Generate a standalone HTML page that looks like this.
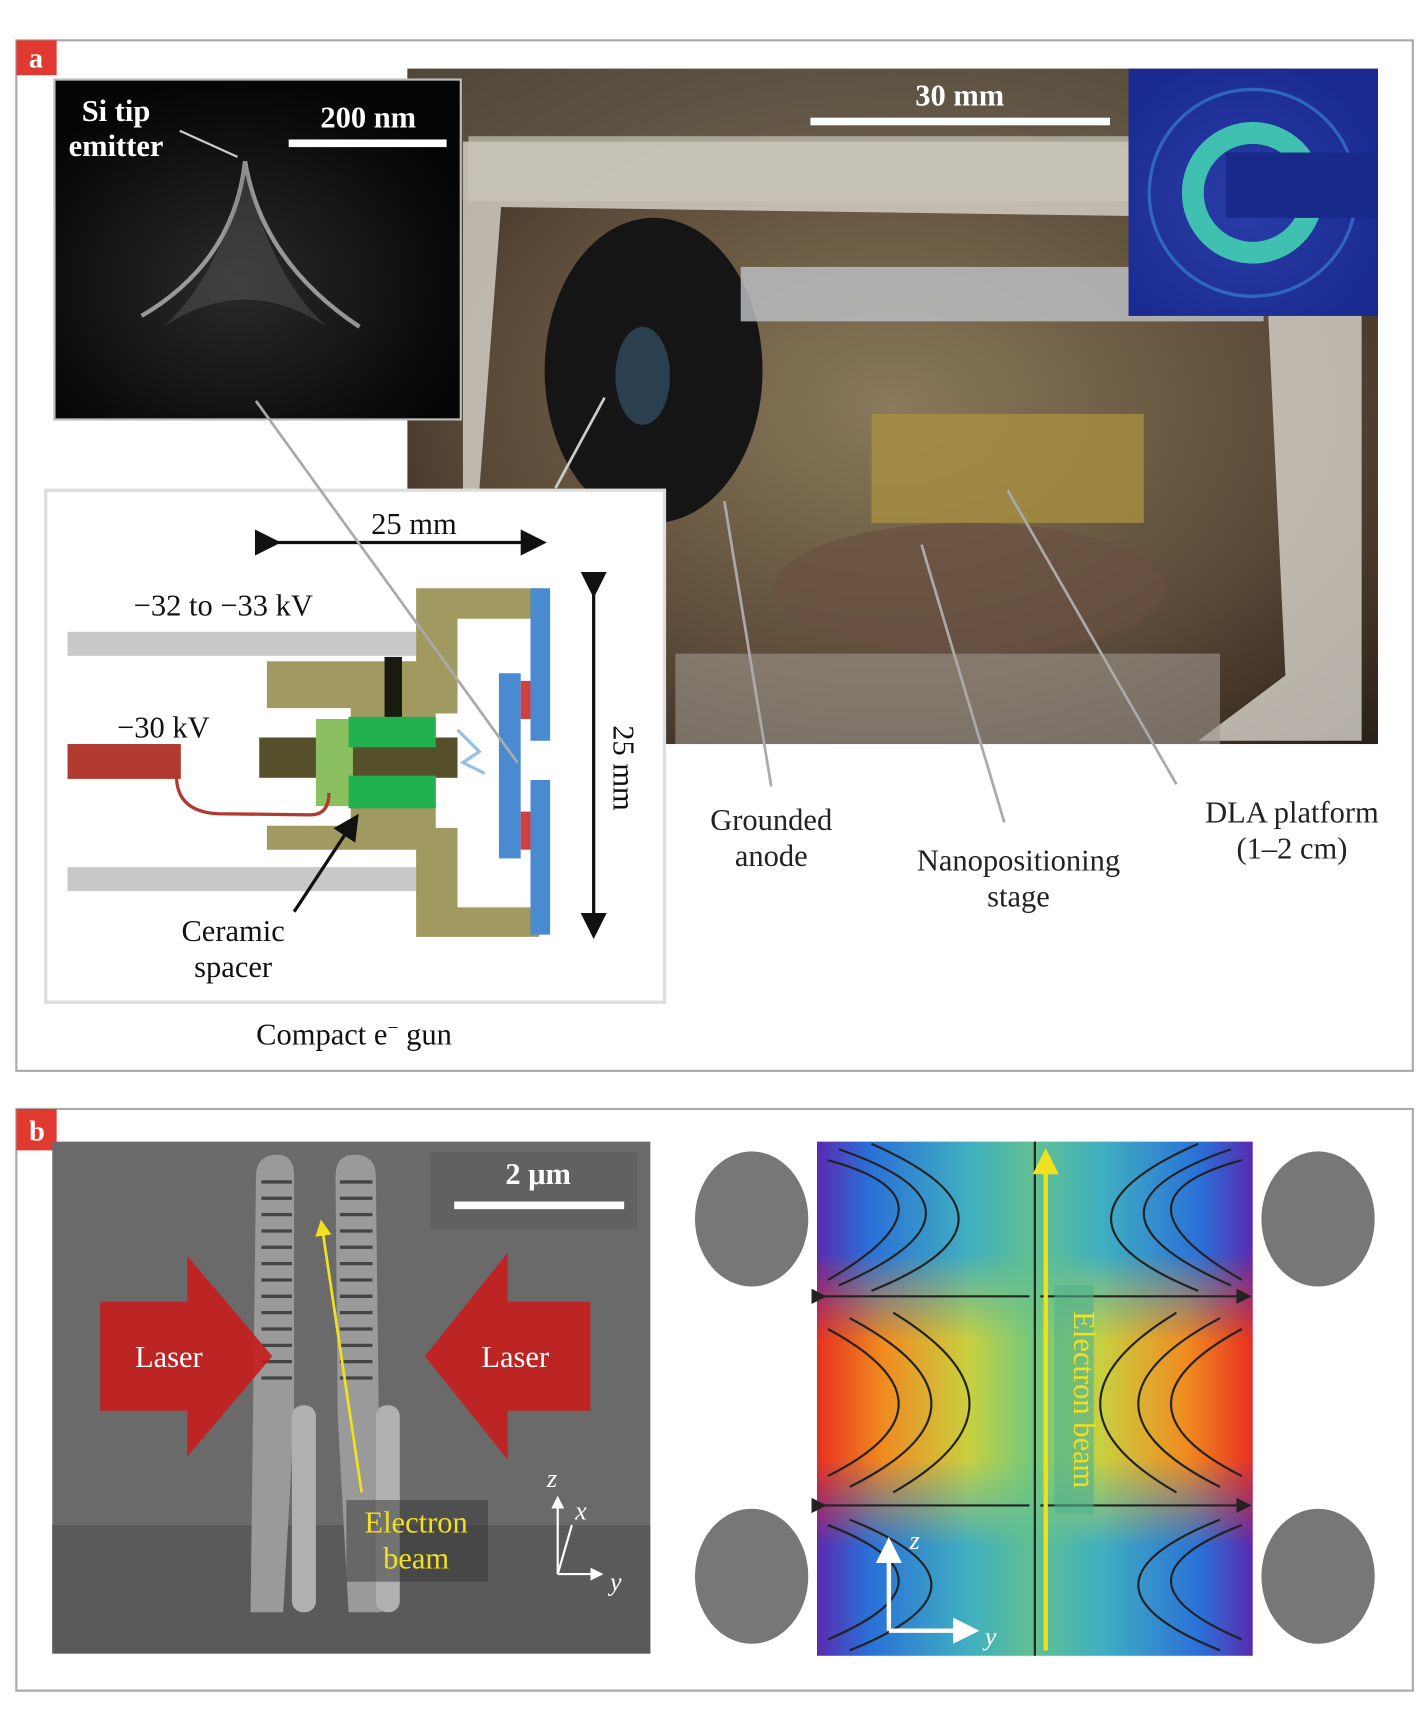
<!DOCTYPE html>
<html><head><meta charset="utf-8"><style>
html,body{margin:0;padding:0;background:#fff;}
svg{display:block;}
text{font-family:"Liberation Serif",serif;}
</style></head><body>
<svg width="1427" height="1719" viewBox="0 0 1310 1578" xmlns="http://www.w3.org/2000/svg">
<defs>
<radialGradient id="ph" cx="0.5" cy="0.5" r="0.7">
<stop offset="0" stop-color="#8a7a5a"/><stop offset="0.6" stop-color="#5a4a38"/><stop offset="1" stop-color="#2a2018"/></radialGradient>
<radialGradient id="diff" cx="0.45" cy="0.55" r="0.6"><stop offset="0" stop-color="#2a3ea8"/><stop offset="1" stop-color="#1a2a90"/></radialGradient>
<radialGradient id="sem" cx="0.45" cy="0.6" r="0.6"><stop offset="0" stop-color="#2a2a2a"/><stop offset="1" stop-color="#050505"/></radialGradient>
<linearGradient id="fldx" x1="0" x2="1"><stop offset="0" stop-color="#5a2ab0"/><stop offset="0.12" stop-color="#2a70d8"/><stop offset="0.35" stop-color="#40b0c0"/><stop offset="0.5" stop-color="#60c090"/><stop offset="0.65" stop-color="#40b0c0"/><stop offset="0.88" stop-color="#2a70d8"/><stop offset="1" stop-color="#5a2ab0"/></linearGradient>
<linearGradient id="fldr" x1="0" x2="1"><stop offset="0" stop-color="#e83020"/><stop offset="0.15" stop-color="#f08a20"/><stop offset="0.35" stop-color="#c8d040"/><stop offset="0.5" stop-color="#70c880"/><stop offset="0.65" stop-color="#c8d040"/><stop offset="0.85" stop-color="#f08a20"/><stop offset="1" stop-color="#e83020"/></linearGradient>
<linearGradient id="vm" x1="0" y1="0" x2="0" y2="1">
<stop offset="0" stop-color="#fff" stop-opacity="0"/><stop offset="0.3" stop-color="#fff" stop-opacity="1"/><stop offset="0.7" stop-color="#fff" stop-opacity="1"/><stop offset="1" stop-color="#fff" stop-opacity="0"/></linearGradient>
<mask id="rm"><rect x="750" y="1150" width="400" height="270" fill="url(#vm)"/></mask>
<marker id="ah" markerWidth="8" markerHeight="8" refX="6" refY="4" orient="auto"><path d="M0,0L8,4L0,8z" fill="#111"/></marker>
<marker id="ahy" markerWidth="6" markerHeight="6" refX="5" refY="3" orient="auto"><path d="M0,0L6,3L0,6z" fill="#f0e020"/></marker>
<marker id="ahw" markerWidth="6" markerHeight="6" refX="5" refY="3" orient="auto"><path d="M0,0L6,3L0,6z" fill="#fff"/></marker>
<marker id="ahk" markerWidth="7" markerHeight="7" refX="5" refY="3.5" orient="auto"><path d="M0,0L7,3.5L0,7z" fill="#222"/></marker>
</defs>

<!-- Panel a -->
<rect x="15" y="37" width="1282" height="946" fill="#fff" stroke="#aaa" stroke-width="2"/>
<rect x="15" y="37" width="37" height="32" fill="#e03a30"/>
<text x="33" y="62" font-size="26" font-weight="bold" fill="#fff" text-anchor="middle">a</text>

<rect x="374" y="63" width="891" height="620" fill="url(#ph)"/>
<rect x="374" y="63" width="891" height="120" fill="#6a6050" opacity="0.6"/>
<path d="M425,130 L1250,130 L1250,680 L1100,680 L1180,620 L1160,200 L460,190 L440,450 L425,450z" fill="#d8d4cc" opacity="0.8"/>
<rect x="430" y="125" width="820" height="60" fill="#c8c4b8" opacity="0.7"/>
<ellipse cx="600" cy="340" rx="100" ry="140" fill="#151515"/>
<ellipse cx="590" cy="345" rx="25" ry="45" fill="#2a4050"/>
<rect x="680" y="245" width="480" height="50" fill="#b8bcc0" opacity="0.85"/>
<rect x="800" y="380" width="250" height="100" fill="#a89040" opacity="0.8"/>
<ellipse cx="890" cy="540" rx="180" ry="60" fill="#6a5040" opacity="0.7"/>
<rect x="620" y="600" width="500" height="83" fill="#a09890" opacity="0.6"/>
<text x="881" y="97" font-size="28" font-weight="bold" fill="#fff" text-anchor="middle">30 mm</text>
<rect x="744" y="108" width="275" height="7" fill="#fff"/>
<rect x="1036" y="63" width="229" height="227" fill="url(#diff)"/>
<circle cx="1150" cy="177" r="95" fill="none" stroke="#3a8ae0" stroke-width="3" opacity="0.6"/>
<circle cx="1150" cy="177" r="55" fill="none" stroke="#40c0b0" stroke-width="20"/>
<rect x="1125" y="140" width="140" height="60" fill="#1a2a8a"/>

<rect x="50" y="73" width="373" height="312" fill="url(#sem)" stroke="#bbb" stroke-width="2"/>
<path d="M225,148 Q215,240 130,290 M225,148 Q240,240 330,300" stroke="#ccc" stroke-width="4" fill="none" opacity="0.7"/>
<path d="M225,148 Q205,250 150,300 Q225,250 300,300 Q245,250 225,148z" fill="#777" opacity="0.3"/>
<text x="75" y="111" font-size="28" font-weight="bold" fill="#fff">Si tip</text>
<text x="63" y="143" font-size="28" font-weight="bold" fill="#fff">emitter</text>
<line x1="165" y1="120" x2="218" y2="144" stroke="#ccc" stroke-width="2"/>
<text x="338" y="117" font-size="28" font-weight="bold" fill="#fff" text-anchor="middle">200 nm</text>
<rect x="265" y="128" width="145" height="7" fill="#fff"/>

<rect x="42" y="450" width="568" height="470" fill="#fff" stroke="#ddd" stroke-width="3"/>
<rect x="62" y="580" width="320" height="22" fill="#c8c8c8"/>
<rect x="62" y="796" width="320" height="22" fill="#c8c8c8"/>
<path d="M382,540 L495,540 L495,568 L420,568 L420,655 L400,655 L400,760 L420,760 L420,833 L495,833 L495,860 L382,860 L382,780 L245,780 L245,758 L322,758 L322,650 L245,650 L245,607 L382,607z" fill="#a09a60"/>
<rect x="353" y="603" width="16" height="58" fill="#1a1a10"/>
<rect x="238" y="677" width="182" height="37" fill="#55502a"/>
<rect x="290" y="660" width="34" height="80" fill="#8ac060"/>
<rect x="320" y="658" width="80" height="28" fill="#20b050"/>
<rect x="320" y="712" width="80" height="30" fill="#20b050"/>
<path d="M420,670 L440,690 L425,700 L445,710" stroke="#9ac0e0" stroke-width="3" fill="none"/>
<rect x="62" y="683" width="104" height="32" fill="#b03a30"/>
<path d="M162,712 Q162,745 200,747 L285,748 Q302,748 302,728" stroke="#b03a30" stroke-width="3" fill="none"/>
<rect x="487" y="540" width="18" height="140" fill="#4a8ad0"/>
<rect x="487" y="716" width="18" height="142" fill="#4a8ad0"/>
<rect x="458" y="618" width="20" height="170" fill="#4a8ad0"/>
<rect x="478" y="625" width="9" height="35" fill="#d04040"/>
<rect x="478" y="745" width="9" height="35" fill="#d04040"/>
<line x1="252" y1="498" x2="496" y2="498" stroke="#111" stroke-width="3" marker-start="url(#ah)" marker-end="url(#ah)"/>
<line x1="545" y1="543" x2="545" y2="856" stroke="#111" stroke-width="3" marker-start="url(#ah)" marker-end="url(#ah)"/>
<text x="380" y="490" font-size="28" text-anchor="middle" fill="#111">25 mm</text>
<text x="563" y="705" font-size="28" text-anchor="middle" fill="#111" transform="rotate(90 563 705)">25 mm</text>
<text x="205" y="565" font-size="28" text-anchor="middle" fill="#111">−32 to −33 kV</text>
<text x="150" y="677" font-size="28" text-anchor="middle" fill="#111">−30 kV</text>
<line x1="270" y1="837" x2="326" y2="752" stroke="#111" stroke-width="3" marker-end="url(#ah)"/>
<text x="214" y="864" font-size="28" text-anchor="middle" fill="#111">Ceramic</text>
<text x="214" y="897" font-size="28" text-anchor="middle" fill="#111">spacer</text>
<text x="325" y="959" font-size="28" text-anchor="middle" fill="#111">Compact e<tspan dy="-10" font-size="18">−</tspan><tspan dy="10"> gun</tspan></text>

<line x1="235" y1="368" x2="475" y2="700" stroke="#aaa" stroke-width="2.5"/>
<line x1="555" y1="365" x2="510" y2="448" stroke="#ccc" stroke-width="2.5"/>
<line x1="665" y1="460" x2="708" y2="722" stroke="#aaa" stroke-width="2.5"/>
<line x1="846" y1="500" x2="922" y2="755" stroke="#aaa" stroke-width="2.5"/>
<line x1="925" y1="450" x2="1080" y2="720" stroke="#aaa" stroke-width="2.5"/>
<text x="708" y="762" font-size="28" text-anchor="middle" fill="#222">Grounded</text>
<text x="708" y="795" font-size="28" text-anchor="middle" fill="#222">anode</text>
<text x="935" y="799" font-size="28" text-anchor="middle" fill="#222">Nanopositioning</text>
<text x="935" y="832" font-size="28" text-anchor="middle" fill="#222">stage</text>
<text x="1186" y="755" font-size="28" text-anchor="middle" fill="#222">DLA platform</text>
<text x="1186" y="788" font-size="28" text-anchor="middle" fill="#222">(1–2 cm)</text>

<!-- Panel b -->
<rect x="15" y="1018" width="1282" height="534" fill="#fff" stroke="#aaa" stroke-width="2"/>
<rect x="15" y="1018" width="37" height="38" fill="#e03a30"/>
<text x="34" y="1047" font-size="26" font-weight="bold" fill="#fff" text-anchor="middle">b</text>

<rect x="48" y="1048" width="549" height="470" fill="#6a6a6a"/>
<rect x="48" y="1400" width="549" height="118" fill="#5a5a5a"/>
<path d="M235,1080 Q235,1060 255,1060 Q270,1060 270,1080 L270,1300 L260,1480 L230,1480z" fill="#9a9a9a"/>
<path d="M308,1080 Q308,1060 325,1060 Q345,1060 345,1080 L350,1480 L320,1480 L310,1300z" fill="#9a9a9a"/>
<g stroke="#444" stroke-width="3">
<line x1="240" y1="1085" x2="268" y2="1085"/><line x1="240" y1="1100" x2="268" y2="1100"/><line x1="240" y1="1115" x2="268" y2="1115"/><line x1="240" y1="1130" x2="268" y2="1130"/><line x1="240" y1="1145" x2="268" y2="1145"/><line x1="240" y1="1160" x2="268" y2="1160"/><line x1="240" y1="1175" x2="268" y2="1175"/><line x1="240" y1="1190" x2="268" y2="1190"/><line x1="240" y1="1205" x2="268" y2="1205"/><line x1="240" y1="1220" x2="268" y2="1220"/><line x1="240" y1="1235" x2="268" y2="1235"/><line x1="240" y1="1250" x2="268" y2="1250"/><line x1="240" y1="1265" x2="268" y2="1265"/>
<line x1="312" y1="1085" x2="342" y2="1085"/><line x1="312" y1="1100" x2="342" y2="1100"/><line x1="312" y1="1115" x2="342" y2="1115"/><line x1="312" y1="1130" x2="342" y2="1130"/><line x1="312" y1="1145" x2="342" y2="1145"/><line x1="312" y1="1160" x2="342" y2="1160"/><line x1="312" y1="1175" x2="342" y2="1175"/><line x1="312" y1="1190" x2="342" y2="1190"/><line x1="312" y1="1205" x2="342" y2="1205"/><line x1="312" y1="1220" x2="342" y2="1220"/><line x1="312" y1="1235" x2="342" y2="1235"/><line x1="312" y1="1250" x2="342" y2="1250"/><line x1="312" y1="1265" x2="342" y2="1265"/>
</g>
<rect x="268" y="1290" width="22" height="190" rx="10" fill="#b0b0b0"/>
<rect x="345" y="1290" width="22" height="190" rx="10" fill="#b0b0b0"/>
<path d="M92,1195 L172,1195 L172,1153 L250,1245 L172,1337 L172,1295 L92,1295z" fill="#c41e1e" opacity="0.92"/>
<path d="M542,1195 L466,1195 L466,1150 L390,1245 L466,1340 L466,1295 L542,1295z" fill="#c41e1e" opacity="0.92"/>
<text x="155" y="1255" font-size="28" fill="#fff" text-anchor="middle">Laser</text>
<text x="473" y="1255" font-size="28" fill="#fff" text-anchor="middle">Laser</text>
<line x1="332" y1="1370" x2="295" y2="1122" stroke="#f0e020" stroke-width="2.5" marker-end="url(#ahy)"/>
<rect x="395" y="1058" width="190" height="70" fill="#555" opacity="0.4"/>
<text x="494" y="1087" font-size="28" font-weight="bold" fill="#fff" text-anchor="middle">2 μm</text>
<rect x="417" y="1103" width="156" height="7" fill="#fff"/>
<rect x="318" y="1377" width="130" height="75" fill="#333" opacity="0.5"/>
<text x="382" y="1407" font-size="28" fill="#f0e020" text-anchor="middle">Electron</text>
<text x="382" y="1440" font-size="28" fill="#f0e020" text-anchor="middle">beam</text>
<line x1="512" y1="1445" x2="512" y2="1375" stroke="#fff" stroke-width="2" marker-end="url(#ahw)"/>
<line x1="512" y1="1445" x2="552" y2="1445" stroke="#fff" stroke-width="2" marker-end="url(#ahw)"/>
<line x1="512" y1="1445" x2="525" y2="1400" stroke="#fff" stroke-width="2"/>
<text x="502" y="1365" font-size="24" font-style="italic" fill="#fff">z</text>
<text x="528" y="1395" font-size="24" font-style="italic" fill="#fff">x</text>
<text x="560" y="1460" font-size="24" font-style="italic" fill="#fff">y</text>

<!-- field map -->
<rect x="750" y="1048" width="400" height="472" fill="url(#fldx)"/>
<rect x="750" y="1150" width="400" height="270" fill="url(#fldr)" mask="url(#rm)"/>
<g stroke="#222" stroke-width="2" fill="none">
<line x1="950" y1="1048" x2="950" y2="1520"/>
<line x1="755" y1="1190" x2="945" y2="1190" marker-start="url(#ahk)"/><line x1="955" y1="1190" x2="1145" y2="1190" marker-end="url(#ahk)"/>
<line x1="755" y1="1382" x2="945" y2="1382" marker-start="url(#ahk)"/><line x1="955" y1="1382" x2="1145" y2="1382" marker-end="url(#ahk)"/>
<path d="M760,1065 Q890,1100 760,1175"/><path d="M770,1055 Q930,1110 770,1180"/><path d="M800,1050 Q960,1120 800,1185"/>
<path d="M760,1220 Q890,1290 760,1355"/><path d="M780,1210 Q930,1290 780,1365"/><path d="M820,1205 Q960,1290 820,1370"/>
<path d="M760,1400 Q890,1450 760,1505"/><path d="M780,1395 Q930,1455 780,1515"/>
<path d="M1140,1065 Q1010,1100 1140,1175"/><path d="M1130,1055 Q970,1110 1130,1180"/><path d="M1100,1050 Q940,1120 1100,1185"/>
<path d="M1140,1220 Q1010,1290 1140,1355"/><path d="M1120,1210 Q970,1290 1120,1365"/><path d="M1080,1205 Q940,1290 1080,1370"/>
<path d="M1140,1400 Q1010,1450 1140,1505"/><path d="M1120,1395 Q970,1455 1120,1515"/>
</g>
<line x1="960" y1="1515" x2="960" y2="1058" stroke="#f0e020" stroke-width="4" marker-end="url(#ahy)"/>
<rect x="968" y="1180" width="36" height="210" fill="#50b090" opacity="0.6"/>
<text x="986" y="1285" font-size="28" fill="#f0e020" text-anchor="middle" transform="rotate(90 986 1285)">Electron beam</text>
<line x1="816" y1="1497" x2="816" y2="1415" stroke="#fff" stroke-width="4" marker-end="url(#ahw)"/>
<line x1="816" y1="1497" x2="895" y2="1497" stroke="#fff" stroke-width="4" marker-end="url(#ahw)"/>
<text x="835" y="1422" font-size="24" font-style="italic" fill="#fff">z</text>
<text x="904" y="1510" font-size="24" font-style="italic" fill="#fff">y</text>
<ellipse cx="690" cy="1119" rx="52" ry="62" fill="#777"/>
<ellipse cx="1210" cy="1119" rx="52" ry="62" fill="#777"/>
<ellipse cx="690" cy="1447" rx="52" ry="62" fill="#777"/>
<ellipse cx="1210" cy="1447" rx="52" ry="62" fill="#777"/>
</svg>
</body></html>
